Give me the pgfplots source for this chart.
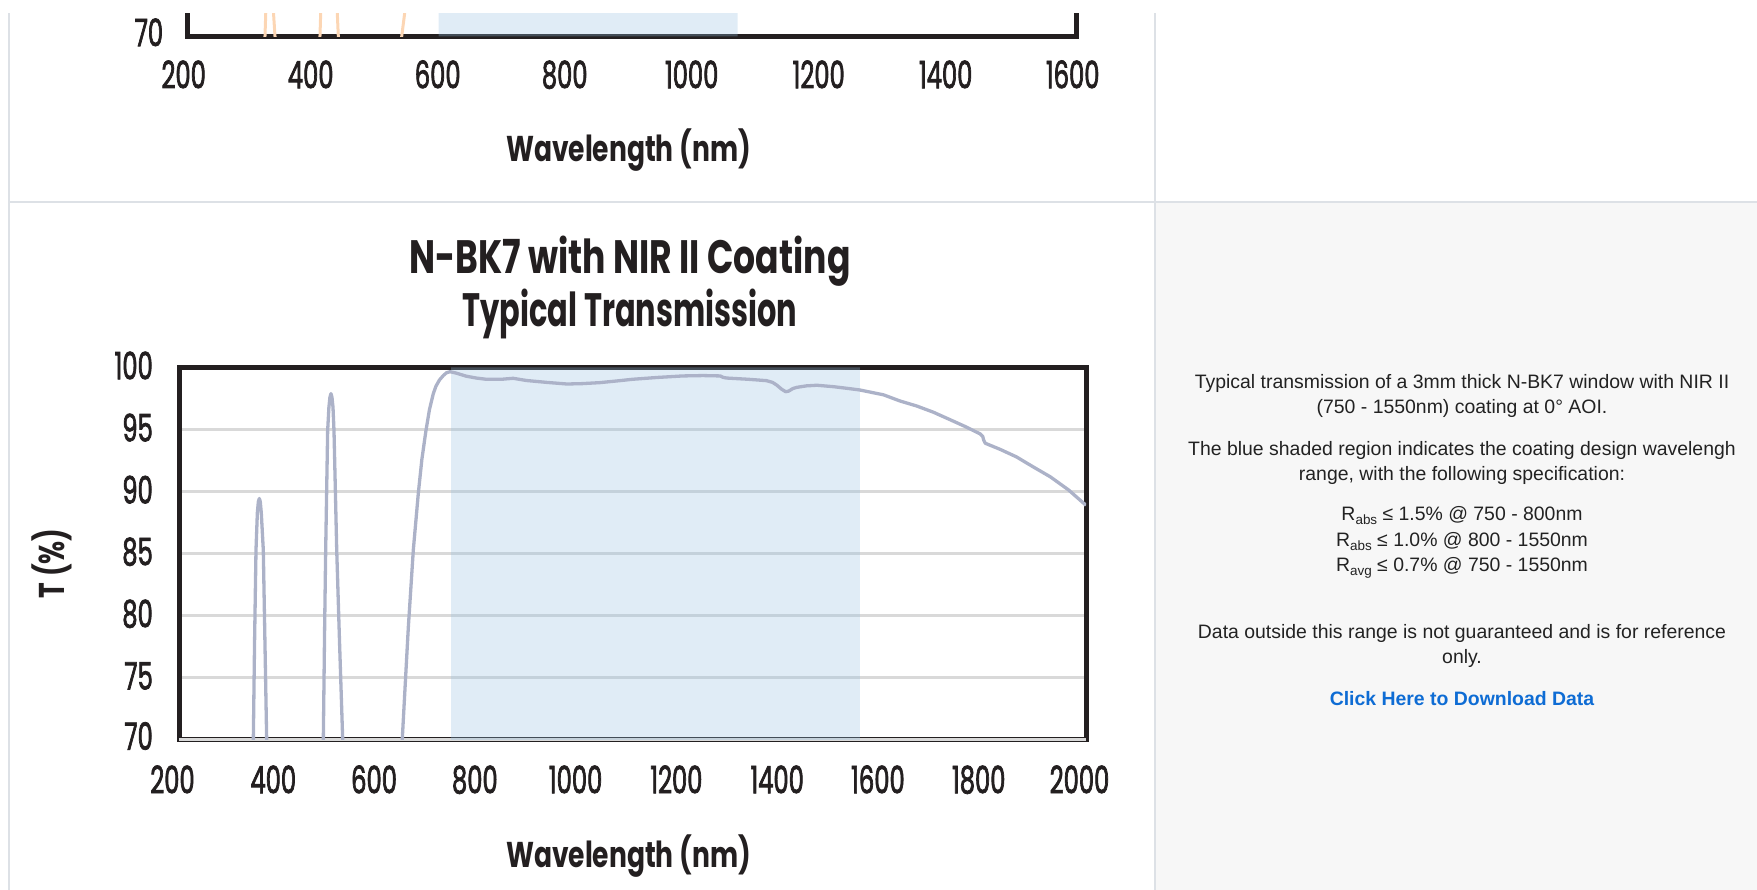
\documentclass[border=0pt]{standalone}
\usepackage{fontspec}
\setmainfont{Liberation Sans}
\newfontfamily\futm[FakeStretch=0.64, FakeBold=1.8]{Poppins}
\newfontfamily\futb[FakeStretch=0.74]{Poppins}
\newfontfamily\futbn[FakeStretch=0.65]{Poppins}
\usepackage{pgfplots}
\pgfplotsset{compat=1.18}

\definecolor{frame}{RGB}{35,31,32}
\definecolor{gridc}{RGB}{217,217,217}
\definecolor{bandc}{RGB}{148,190,224}
\definecolor{curve}{RGB}{172,178,200}
\definecolor{orng}{RGB}{252,214,180}
\definecolor{sep}{RGB}{221,225,230}
\definecolor{panel}{RGB}{247,247,247}
\definecolor{txt}{RGB}{34,34,34}
\definecolor{link}{RGB}{14,108,212}

\newcommand\sub[1]{\raisebox{-4bp}{\fontsize{13.5}{13.5}\selectfont #1}}

\pgfplotsset{
  layers/frontframe/.define layer set={axis background,axis grid,main,axis ticks,axis lines,axis tick labels,axis descriptions,axis foreground}{},
  eo/.style={
    scale only axis, anchor=south west,
    ymin=70, ymax=100,
    set layers=frontframe,
    axis line style={line width=5bp, color=frame, line join=miter},
    major tick length=0pt, tick style={draw=none},
    ticklabel style={font=\futm\fontsize{38}{38}\selectfont, text=frame, inner sep=0pt},
    /pgf/number format/assume math mode=true,
    /pgf/number format/1000 sep={},
    xticklabel style={anchor=base},
    yticklabel style={anchor=east},
  },
}

% measured transmission, N-BK7 + NIR II
\pgfplotstableread{
nm T
200 2
300 30
335 55
341 62
347.5 70
350 78
352.8 85.3
355.5 88.3
357.5 89.2
359.4 89.45
361.3 89.2
363.3 88.3
367.3 85.3
370.5 78
374 70
380 61
420 40
470 55
480 63
486.4 70
489 79
491.1 85.3
495 94.9
497.5 96.8
499.5 97.6
501.6 97.9
503.6 97.6
505.6 96.8
507.6 94.9
513 85.3
518.5 78
524.9 70
531 62
570 40
615 48
630 60
643 70
655 79
665 85.3
675 89.9
682 92.6
690 94.9
697 96.6
704.7 97.9
710 98.5
717 99.0
724.5 99.35
731 99.58
737.8 99.66
750 99.55
770 99.3
790 99.15
810 99.05
840 99.05
863 99.13
890 98.95
930 98.8
970 98.67
1000 98.7
1035 98.78
1070 98.92
1100 99.05
1150 99.2
1200 99.32
1240 99.35
1274 99.32
1280 99.2
1287 99.15
1330 99.05
1366 98.94
1378 98.8
1386 98.59
1396 98.25
1404 98.05
1410 98.1
1418 98.3
1426 98.4
1445 98.52
1466 98.57
1500 98.45
1530 98.3
1551 98.19
1598 97.8
1631 97.3
1664 96.9
1697 96.4
1730 95.8
1760 95.25
1790 94.65
1795 94.45
1797 94.15
1800 93.9
1830 93.4
1862 92.8
1895 92.0
1929 91.2
1965 90.15
2000 88.9
}\nirii

% upper chart (only its bottom edge is in view)
\pgfplotstableread{
nm T
200 5
300 55
318 65
321.7 70
323 72
329 90
335 72
337.5 70
342 62
395 60
404 66
408.3 70
409.5 72
422 96
435.5 72
437.2 70
441 65
500 45
530 64
537 70
542 72
560 95
600 99.2
800 99.5
1000 99.3
1200 98.5
1400 97.5
1600 96.5
}\upper

\begin{document}
\begin{tikzpicture}
\fill[panel] (1156bp,0) rectangle (1757bp,687bp);

% upper chart, cut off by the page top
\begin{axis}[eo, at={(187.7bp,853.5bp)}, width=889bp, height=372.5bp,
  xmin=200, xmax=1600, xtick={200,400,...,1600}, ytick={70},
  xticklabel style={yshift=-51.8bp, xshift=-4bp},
  yticklabel style={xshift=-24.4bp, yshift=4.2bp}]
  \addplot[fill=bandc, draw=none, opacity=0.29] coordinates {(595,70) (595,100) (1066,100) (1066,70)} \closedcycle;
  \addplot[orng, line width=3bp, no marks] table[x=nm, y=T] {\upper};
\end{axis}

% lower chart
\begin{axis}[eo, at={(179bp,150bp)}, width=907bp, height=372.5bp,
  xmin=200, xmax=2000, xtick={200,400,...,2000},
  ytick={75,80,...,100}, extra y ticks={70},
  extra y tick style={yticklabel style={yshift=2bp}},
  ymajorgrids, grid style={line width=3bp, color=gridc},
  xticklabel style={yshift=-53.3bp, xshift=-6.5bp},
  yticklabel style={xshift=-26bp, yshift=2bp}]
  \addplot[fill=bandc, draw=none, opacity=0.29] coordinates {(740,70) (740,100) (1551,100) (1551,70)} \closedcycle;
  \addplot[curve, line width=3.3bp, line join=round, no marks] table[x=nm, y=T] {\nirii};
\end{axis}

\fill[white] (0,877bp) rectangle (1757bp,890bp);
\draw[sep, line width=2.5bp] (9bp,0) -- (9bp,877bp);
\draw[sep, line width=2bp] (1155bp,0) -- (1155bp,877bp);
\draw[sep, line width=2bp] (9bp,688.3bp) -- (1757bp,688.3bp);

% chart texts
\node[font=\futb\bfseries\fontsize{36}{36}\selectfont, text=frame] at (628.5bp,740bp) {Wavelength (nm)};
\node[font=\futb\bfseries\fontsize{47}{47}\selectfont, text=frame] at (630bp,629bp) {N-BK7 with NIR II Coating};
\node[font=\futbn\bfseries\fontsize{47}{47}\selectfont, text=frame] at (630bp,576bp) {Typical Transmission};
\node[font=\futb\bfseries\fontsize{36}{36}\selectfont, text=frame, rotate=90] at (51.7bp,326.7bp) {T (\%)};
\node[font=\futb\bfseries\fontsize{36}{36}\selectfont, text=frame] at (628.5bp,34bp) {Wavelength (nm)};

% description panel
\begin{scope}[every node/.style={anchor=base, text=txt, font=\fontsize{19.5}{21}\selectfont, inner sep=0pt}]
\node at (1462bp,501.3bp) {Typical transmission of a 3mm thick N-BK7 window with NIR II};
\node at (1462bp,476.3bp) {(750 - 1550nm) coating at 0° AOI.};
\node at (1462bp,434.7bp) {The blue shaded region indicates the coating design wavelengh};
\node at (1462bp,409.7bp) {range, with the following specification:};
\node at (1462bp,369bp) {R\sub{abs} ≤ 1.5\% @ 750 - 800nm};
\node at (1462bp,343.7bp) {R\sub{abs} ≤ 1.0\% @ 800 - 1550nm};
\node at (1462bp,318bp) {R\sub{avg} ≤ 0.7\% @ 750 - 1550nm};
\node at (1462bp,251.3bp) {Data outside this range is not guaranteed and is for reference};
\node at (1462bp,226.3bp) {only.};
\node[text=link, font=\bfseries\fontsize{19.5}{21}\selectfont] at (1462bp,184.7bp) {Click Here to Download Data};
\end{scope}

\pgfresetboundingbox
\path[use as bounding box] (0,0) rectangle (1757bp,890bp);
\end{tikzpicture}
\end{document}
